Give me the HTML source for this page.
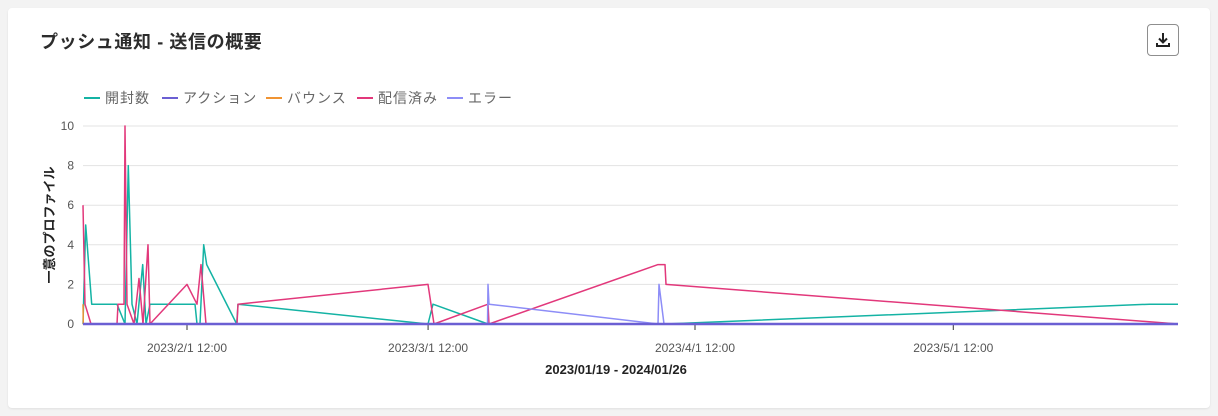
<!DOCTYPE html>
<html><head><meta charset="utf-8">
<style>
html,body{margin:0;padding:0;}
body{width:1218px;height:416px;background:#f3f3f3;font-family:"Liberation Sans","Noto Sans CJK JP",sans-serif;position:relative;overflow:hidden;}
.card{position:absolute;left:8px;top:8px;width:1202px;height:400px;background:#fff;border-radius:4px;box-shadow:0 1px 2px rgba(0,0,0,0.08);}
.title{position:absolute;left:32px;top:20px;font-size:18px;font-weight:bold;color:#2c2c2c;letter-spacing:0.6px;}
.dl{position:absolute;left:1139px;top:16px;width:30px;height:30px;border:1px solid #8e8e8e;border-radius:4px;background:#fff;}
svg{position:absolute;left:0;top:0;}
</style></head>
<body>
<div class="card">
  <div class="title">プッシュ通知 - 送信の概要</div>
  <div class="dl">
    <svg width="30" height="30">
      <path d="M15 8 V17 M11 13.5 L15 17.5 L19 13.5" stroke="#222" stroke-width="2" fill="none"/>
      <path d="M9 18 V21 H21 V18" stroke="#222" stroke-width="2" fill="none"/>
    </svg>
  </div>
</div>
<svg id="chart" width="1218" height="416"></svg>
<script>
const seriesNames = ["開封数","アクション","バウンス","配信済み","エラー"];
const seriesColors = ["#14b3a4","#6b5fd3","#f09433","#e2387b","#8d8df7"];
const opensData = [[1.42,0],[1.73,5],[2.43,1],[5.37,1],[6.30,0],[6.68,8],[7.11,1],[7.69,0],[8.35,3],[8.74,0],[9.20,1],[14.43,1],[14.66,0],[15.01,0],[15.44,4],[15.79,3],[19.27,0],[19.42,1],[41.49,0],[42.07,1],[48.46,0],[69.02,0],[125.3,1],[128.6,1]];
const actionData = [[1.42,0],[128.6,0]];
const bounceData = [[1.42,1],[1.45,0],[128.6,0]];
const deliveredData = [[1.42,6],[1.65,1],[2.35,0],[5.37,0],[5.49,1],[6.18,1],[6.30,10],[6.53,1],[7.34,0],[7.92,2.3],[8.39,0],[8.97,4],[9.20,0],[13.5,2],[14.66,1],[15.13,3],[15.71,0],[19.31,0],[19.42,1],[41.49,2],[42.19,0],[48.46,1],[48.57,0],[68.20,3],[69.02,3],[69.13,2],[128.6,0]];
const errorData = [[1.42,0],[48.40,0],[48.46,2],[48.57,1],[68.20,0],[68.32,2],[68.90,0],[128.6,0]];
const yTicks = [0,2,4,6,8,10];
const xTickDays = [13.5,41.5,72.5,102.5];
const xTickLabels = ["2023/2/1 12:00","2023/3/1 12:00","2023/4/1 12:00","2023/5/1 12:00"];

const NS="http://www.w3.org/2000/svg";
const svg=document.getElementById('chart');
const X0=83,X1=1178,Y0=324,Y1=126;
const dMin=1.42,dMax=128.6,vMax=10;
function xs(d){return X0+(d-dMin)/(dMax-dMin)*(X1-X0);}
function ys(v){return Y0-(v/vMax)*(Y0-Y1);}
function mk(tag,attrs){const e=document.createElementNS(NS,tag);for(const k in attrs)e.setAttribute(k,attrs[k]);svg.appendChild(e);return e;}

yTicks.forEach(t=>{
  const g=mk('line',{x1:X0,x2:X1,y1:ys(t),y2:ys(t),stroke:'#e3e3e3','stroke-width':1});
  
  
  const l=mk('text',{x:74,y:ys(t)+4,'text-anchor':'end','font-size':12,fill:'#555'});
  l.textContent=t;
  
  
});
xTickDays.forEach((d,i)=>{
  const t=mk('line',{x1:xs(d),x2:xs(d),y1:324,y2:330,stroke:'#333','stroke-width':1});
  
  
  const l=mk('text',{x:xs(d),y:352,'text-anchor':'middle','font-size':12,fill:'#555'});
  l.textContent=xTickLabels[i];
  
  
});
const xt=mk('text',{x:616,y:374,'text-anchor':'middle','font-size':13,fill:'#222','font-weight':'bold'});
xt.textContent='2023/01/19 - 2024/01/26';


const yt=mk('text',{x:0,y:0,'text-anchor':'middle','font-size':13,fill:'#222','font-weight':'bold',transform:'translate(54,225) rotate(-90)'});
yt.textContent='一意のプロファイル';



const allData=[opensData,deliveredData,errorData,bounceData,actionData];
const colorIdx=[0,3,4,2,1];
const names=['series-opens','series-delivered','series-error','series-bounce','series-action'];
allData.forEach((data,i)=>{
  const p=mk('polyline',{points:data.map(q=>xs(q[0]).toFixed(1)+','+ys(q[1]).toFixed(1)).join(' '),fill:'none',stroke:seriesColors[colorIdx[i]],'stroke-width':(i===4?2.5:1.5),'stroke-linejoin':'round'});
  
  
});

let lx=84;
const legW=[78,104,91,90,70];
seriesNames.forEach((n,i)=>{
  const ln=mk('line',{x1:lx,x2:lx+16,y1:98,y2:98,stroke:seriesColors[i],'stroke-width':2});
  
  
  const t=mk('text',{x:lx+21,y:103,'font-size':14,fill:'#666','letter-spacing':'1'});
  t.textContent=n;
  
  
  lx+=legW[i];
});
</script>
</body></html>
